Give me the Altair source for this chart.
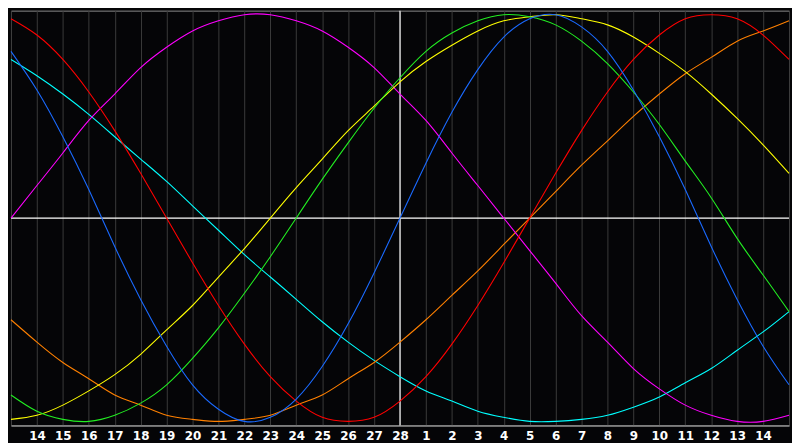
import altair as alt
import pandas as pd

# x positions: one per day, 0..30 (grid lines); labels shown on 1..29
idx = list(range(31))
first_day = 13      # day number at the left edge (previous month)
month_len = 28      # last day of previous month (centre line)

# daily readings of each cycle (percent of amplitude)
blue = [82, 63, 40, 14, -14, -40, -63, -82, -94, -100, -98, -89, -73, -52, -27, 0,
        27, 52, 73, 89, 98, 100, 94, 82, 63, 40, 14, -14, -40, -63, -82]
red = [98, 90, 78, 62, 43, 22, 0, -22, -43, -62, -78, -90, -98, -100, -98, -90,
       -78, -62, -43, -22, 0, 22, 43, 62, 78, 90, 98, 100, 98, 90, 78]
green = [-87, -95, -99, -100, -97, -91, -82, -69, -54, -37, -19, 0, 19, 37, 54, 69,
         82, 91, 97, 100, 99, 95, 87, 76, 62, 46, 28, 10, -10, -28, -46]
magenta = [0, 16, 32, 48, 61, 74, 84, 92, 97, 100, 100, 97, 92, 84, 74, 61, 48, 32,
           16, 0, -16, -32, -48, -61, -74, -84, -92, -97, -100, -100, -97]
yellow = [-99, -97, -92, -85, -77, -67, -55, -43, -29, -15, 0, 15, 29, 43, 55, 67,
          77, 85, 92, 97, 99, 100, 98, 95, 89, 81, 72, 61, 49, 36, 22]
orange = [-50, -61, -71, -79, -87, -92, -97, -99, -100, -99, -97, -92, -87, -79, -71,
          -61, -50, -38, -26, -13, 0, 13, 26, 38, 50, 61, 71, 79, 87, 92, 97]
cyan = [78, 70, 61, 51, 40, 29, 18, 6, -6, -18, -29, -40, -51, -61, -70, -78, -85,
        -90, -95, -98, -100, -100, -99, -97, -93, -88, -81, -74, -65, -56, -46]

series_names = ["cyan", "orange", "magenta", "yellow", "green", "red", "blue"]
series_values = [cyan, orange, magenta, yellow, green, red, blue]
series_colors = ["#00ffff", "#ff8000", "#ff00ff", "#ffff00", "#22ee22", "#ff0000", "#1a6aff"]

rows = []
for name, vals in zip(series_names, series_values):
    for i, v in zip(idx, vals):
        rows.append({"i": i, "v": v, "s": name})
df = pd.DataFrame(rows)

centre = month_len - first_day
label_expr = (
    f"(datum.value <= 0 || datum.value >= 30) ? '' : "
    f"(datum.value <= {centre} ? '' + (datum.value + {first_day}) : '' + (datum.value - {centre}))"
)

xscale = alt.Scale(domain=[0, 30], nice=False, zero=False)
yscale = alt.Scale(domain=[-102, 102], nice=False, zero=False)

xaxis = alt.Axis(values=idx, labelExpr=label_expr, grid=True,
                 gridColor="#3a3a3a", gridWidth=1, ticks=False, domainColor="#a8a8a8",
                 labelColor="white", labelFont="DejaVu Sans", labelFontWeight="bold",
                 labelFontSize=12, labelPadding=5, title=None, labelFlush=False,
                 labelOverlap=False)

lines = alt.Chart(df).mark_line(strokeWidth=1.1, interpolate="natural").encode(
    x=alt.X("i:Q", scale=xscale, axis=xaxis),
    y=alt.Y("v:Q", scale=yscale, axis=None),
    color=alt.Color("s:N", scale=alt.Scale(domain=series_names, range=series_colors), legend=None),
)

vline = alt.Chart(pd.DataFrame({"i": [centre]})).mark_rule(color="white", strokeWidth=1.2).encode(
    x=alt.X("i:Q", scale=xscale, axis=xaxis)
)
hline = alt.Chart(pd.DataFrame({"v": [0]})).mark_rule(color="white", strokeWidth=1.2).encode(
    y=alt.Y("v:Q", scale=yscale, axis=None)
)

chart = alt.layer(vline, hline, lines).properties(
    width=784, height=418, background="#050507", padding=0
).configure_view(stroke="#8a8a8a", strokeWidth=1)

chart.save("out.html", embed_options={"renderer": "svg", "actions": False})
